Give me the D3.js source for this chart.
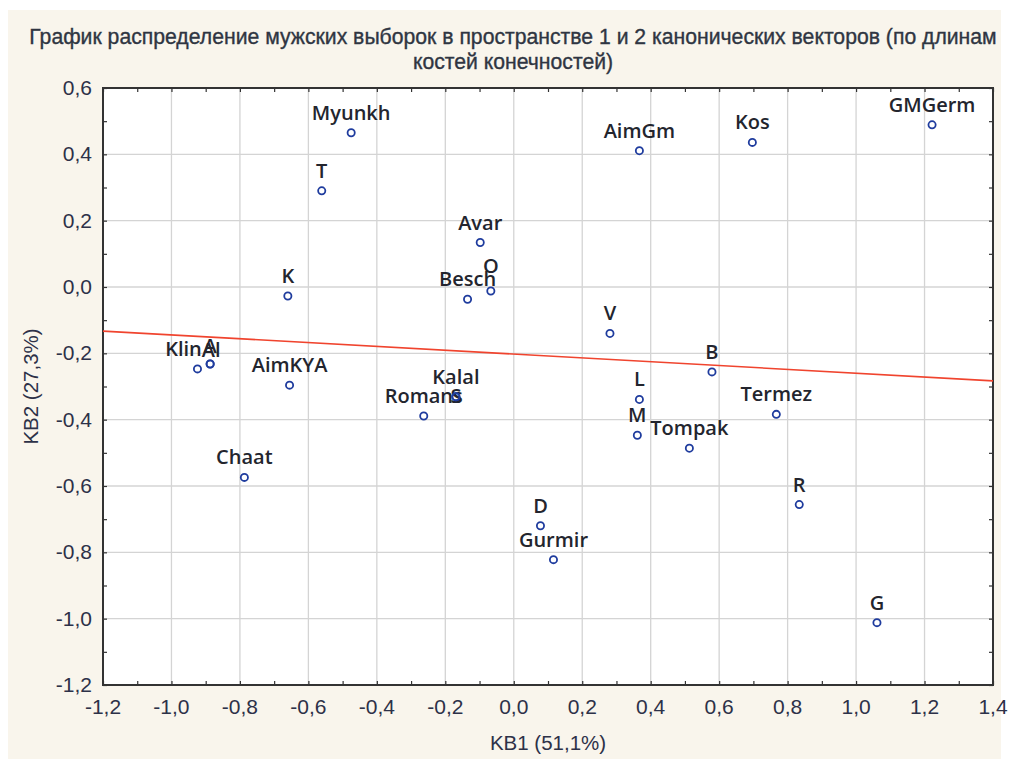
<!DOCTYPE html>
<html>
<head>
<meta charset="utf-8">
<script src="https://cdn.jsdelivr.net/npm/d3@7"></script>
<style>
  body { margin: 0; background: #fff; }
  svg { display: block; }
</style>
</head>
<body>
<div id="chart"></div>
<script>
// samples (male), coordinates in the space of canonical vectors 1 and 2
const names = ["Myunkh", "T", "Avar", "K", "Besch", "O", "AimGm", "Kos", "GMGerm",
  "V", "B", "L", "M", "Tompak", "Termez", "R", "D", "Gurmir", "G",
  "Klin", "Al", "A", "AimKYA", "Romans", "Kalal", "S", "Chaat"];
const kb1 = [-0.475, -0.561, -0.098, -0.660, -0.135, -0.067, 0.367, 0.697, 1.222,
  0.281, 0.579, 0.367, 0.361, 0.513, 0.767, 0.834, 0.078, 0.116, 1.061,
  -0.924, -0.887, -0.887, -0.655, -0.263, -0.169, -0.169, -0.787];
const kb2 = [0.465, 0.290, 0.134, -0.027, -0.037, -0.012, 0.411, 0.436, 0.489,
  -0.140, -0.256, -0.339, -0.447, -0.486, -0.384, -0.656, -0.720, -0.822, -1.012,
  -0.247, -0.232, -0.232, -0.296, -0.389, -0.331, -0.331, -0.574];

// red line ends (kb1, kb2)
const lineX = [-1.2, 1.4];
const lineY = [-0.133, -0.283];

const xTicks = [-1.2, -1.0, -0.8, -0.6, -0.4, -0.2, 0.0, 0.2, 0.4, 0.6, 0.8, 1.0, 1.2, 1.4];
const yTicks = [0.6, 0.4, 0.2, 0.0, -0.2, -0.4, -0.6, -0.8, -1.0, -1.2];

const titleLines = ["График распределение мужских выборок в пространстве 1 и 2 канонических векторов (по длинам",
  "костей конечностей)"];
const xTitle = "KB1 (51,1%)";
const yTitle = "KB2 (27,3%)";

// label nudges where labels were moved by hand in the original
const nudge = { Klin: [-14, 0], Al: [1, 6], A: [0, 2], S: [0, 19], O: [0, -5] };

const width = 1009, height = 759;
const margin = { top: 88, right: 16, bottom: 74, left: 103 };
const fmt = v => d3.format(".1f")(v).replace(".", ",").replace("−", "-");

const svg = d3.select("#chart").append("svg")
  .attr("width", width)
  .attr("height", height);

// beige panel
svg.append("rect")
  .attr("x", 8).attr("y", 10)
  .attr("width", 993).attr("height", 749)
  .attr("fill", "#f9f5ec");

const x = d3.scaleLinear().domain([-1.2, 1.4]).range([margin.left, width - margin.right]);
const y = d3.scaleLinear().domain([-1.2, 0.6]).range([height - margin.bottom, margin.top]);

svg.append("rect")
  .attr("x", x(-1.2)).attr("y", y(0.6))
  .attr("width", x(1.4) - x(-1.2)).attr("height", y(-1.2) - y(0.6))
  .attr("fill", "#fff");

// grid
svg.append("g")
  .selectAll("line").data(xTicks).join("line")
  .attr("x1", d => x(d)).attr("x2", d => x(d))
  .attr("y1", y(0.6)).attr("y2", y(-1.2))
  .attr("stroke", "#d4d4d4").attr("stroke-width", 1.3);
svg.append("g")
  .selectAll("line").data(yTicks).join("line")
  .attr("y1", d => y(d)).attr("y2", d => y(d))
  .attr("x1", x(-1.2)).attr("x2", x(1.4))
  .attr("stroke", "#d4d4d4").attr("stroke-width", 1.3);

// inward ticks on all four sides, every 0.1
const minorX = d3.range(-12, 15).map(i => i / 10);
const minorY = d3.range(-12, 7).map(i => i / 10);
const tickLen = 4;
function axisStyle(g) {
  g.select(".domain").remove();
  g.selectAll(".tick line").attr("stroke", "#333").attr("stroke-width", 1.2);
}
svg.append("g").attr("transform", `translate(0,${y(-1.2)})`)
  .call(d3.axisTop(x).tickValues(minorX).tickSize(tickLen).tickFormat(""))
  .call(axisStyle);
svg.append("g").attr("transform", `translate(0,${y(0.6)})`)
  .call(d3.axisBottom(x).tickValues(minorX).tickSize(tickLen).tickFormat(""))
  .call(axisStyle);
svg.append("g").attr("transform", `translate(${x(-1.2)},0)`)
  .call(d3.axisRight(y).tickValues(minorY).tickSize(tickLen).tickFormat(""))
  .call(axisStyle);
svg.append("g").attr("transform", `translate(${x(1.4)},0)`)
  .call(d3.axisLeft(y).tickValues(minorY).tickSize(tickLen).tickFormat(""))
  .call(axisStyle);

// tick labels
svg.append("g")
  .selectAll("text").data(xTicks).join("text")
  .attr("x", d => x(d)).attr("y", y(-1.2) + 29)
  .attr("text-anchor", "middle")
  .attr("font-family", "Liberation Sans, Arial, sans-serif")
  .attr("font-size", 21)
  .attr("fill", "#2d3148")
  .text(fmt);
svg.append("g")
  .selectAll("text").data(yTicks).join("text")
  .attr("x", x(-1.2) - 11).attr("y", d => y(d) + 7)
  .attr("text-anchor", "end")
  .attr("font-family", "Liberation Sans, Arial, sans-serif")
  .attr("font-size", 21)
  .attr("fill", "#2d3148")
  .text(fmt);

// frame
svg.append("rect")
  .attr("x", x(-1.2)).attr("y", y(0.6))
  .attr("width", x(1.4) - x(-1.2)).attr("height", y(-1.2) - y(0.6))
  .attr("fill", "none").attr("stroke", "#333").attr("stroke-width", 2);

// red line
svg.append("line")
  .attr("x1", x(lineX[0])).attr("y1", y(lineY[0]))
  .attr("x2", x(lineX[1])).attr("y2", y(lineY[1]))
  .attr("stroke", "#f0442e").attr("stroke-width", 1.6);

// points
const pts = names.map((n, i) => ({ name: n, x: kb1[i], y: kb2[i] }));

svg.append("g")
  .selectAll("text").data(pts).join("text")
  .attr("x", d => x(d.x) + (nudge[d.name] ? nudge[d.name][0] : 0))
  .attr("y", d => y(d.y) - 13 + (nudge[d.name] ? nudge[d.name][1] : 0))
  .attr("text-anchor", "middle")
  .attr("font-family", "Open Sans, sans-serif")
  .attr("font-weight", 600)
  .attr("font-size", 20)
  .attr("fill", "#23252e")
  .text(d => d.name);

svg.append("g")
  .selectAll("circle").data(pts).join("circle")
  .attr("cx", d => x(d.x)).attr("cy", d => y(d.y))
  .attr("r", 3.6)
  .attr("fill", "none")
  .attr("stroke", "#1f3c9e")
  .attr("stroke-width", 1.8);

// titles
svg.append("g")
  .selectAll("text").data(titleLines).join("text")
  .attr("x", 513).attr("y", (d, i) => 44 + i * 25)
  .attr("text-anchor", "middle")
  .attr("font-family", "Liberation Sans, Arial, sans-serif")
  .attr("font-size", 21.2)
  .attr("fill", "#2f3542")
  .attr("stroke", "#2f3542")
  .attr("stroke-width", 0.35)
  .text(d => d);

svg.append("text")
  .attr("x", (x(-1.2) + x(1.4)) / 2).attr("y", 750)
  .attr("text-anchor", "middle")
  .attr("font-family", "Liberation Sans, Arial, sans-serif")
  .attr("font-size", 20.5)
  .attr("fill", "#2d3148")
  .text(xTitle);

svg.append("text")
  .attr("transform", `translate(38,${(y(0.6) + y(-1.2)) / 2}) rotate(-90)`)
  .attr("text-anchor", "middle")
  .attr("font-family", "Liberation Sans, Arial, sans-serif")
  .attr("font-size", 20.5)
  .attr("fill", "#2d3148")
  .text(yTitle);
</script>
</body>
</html>
